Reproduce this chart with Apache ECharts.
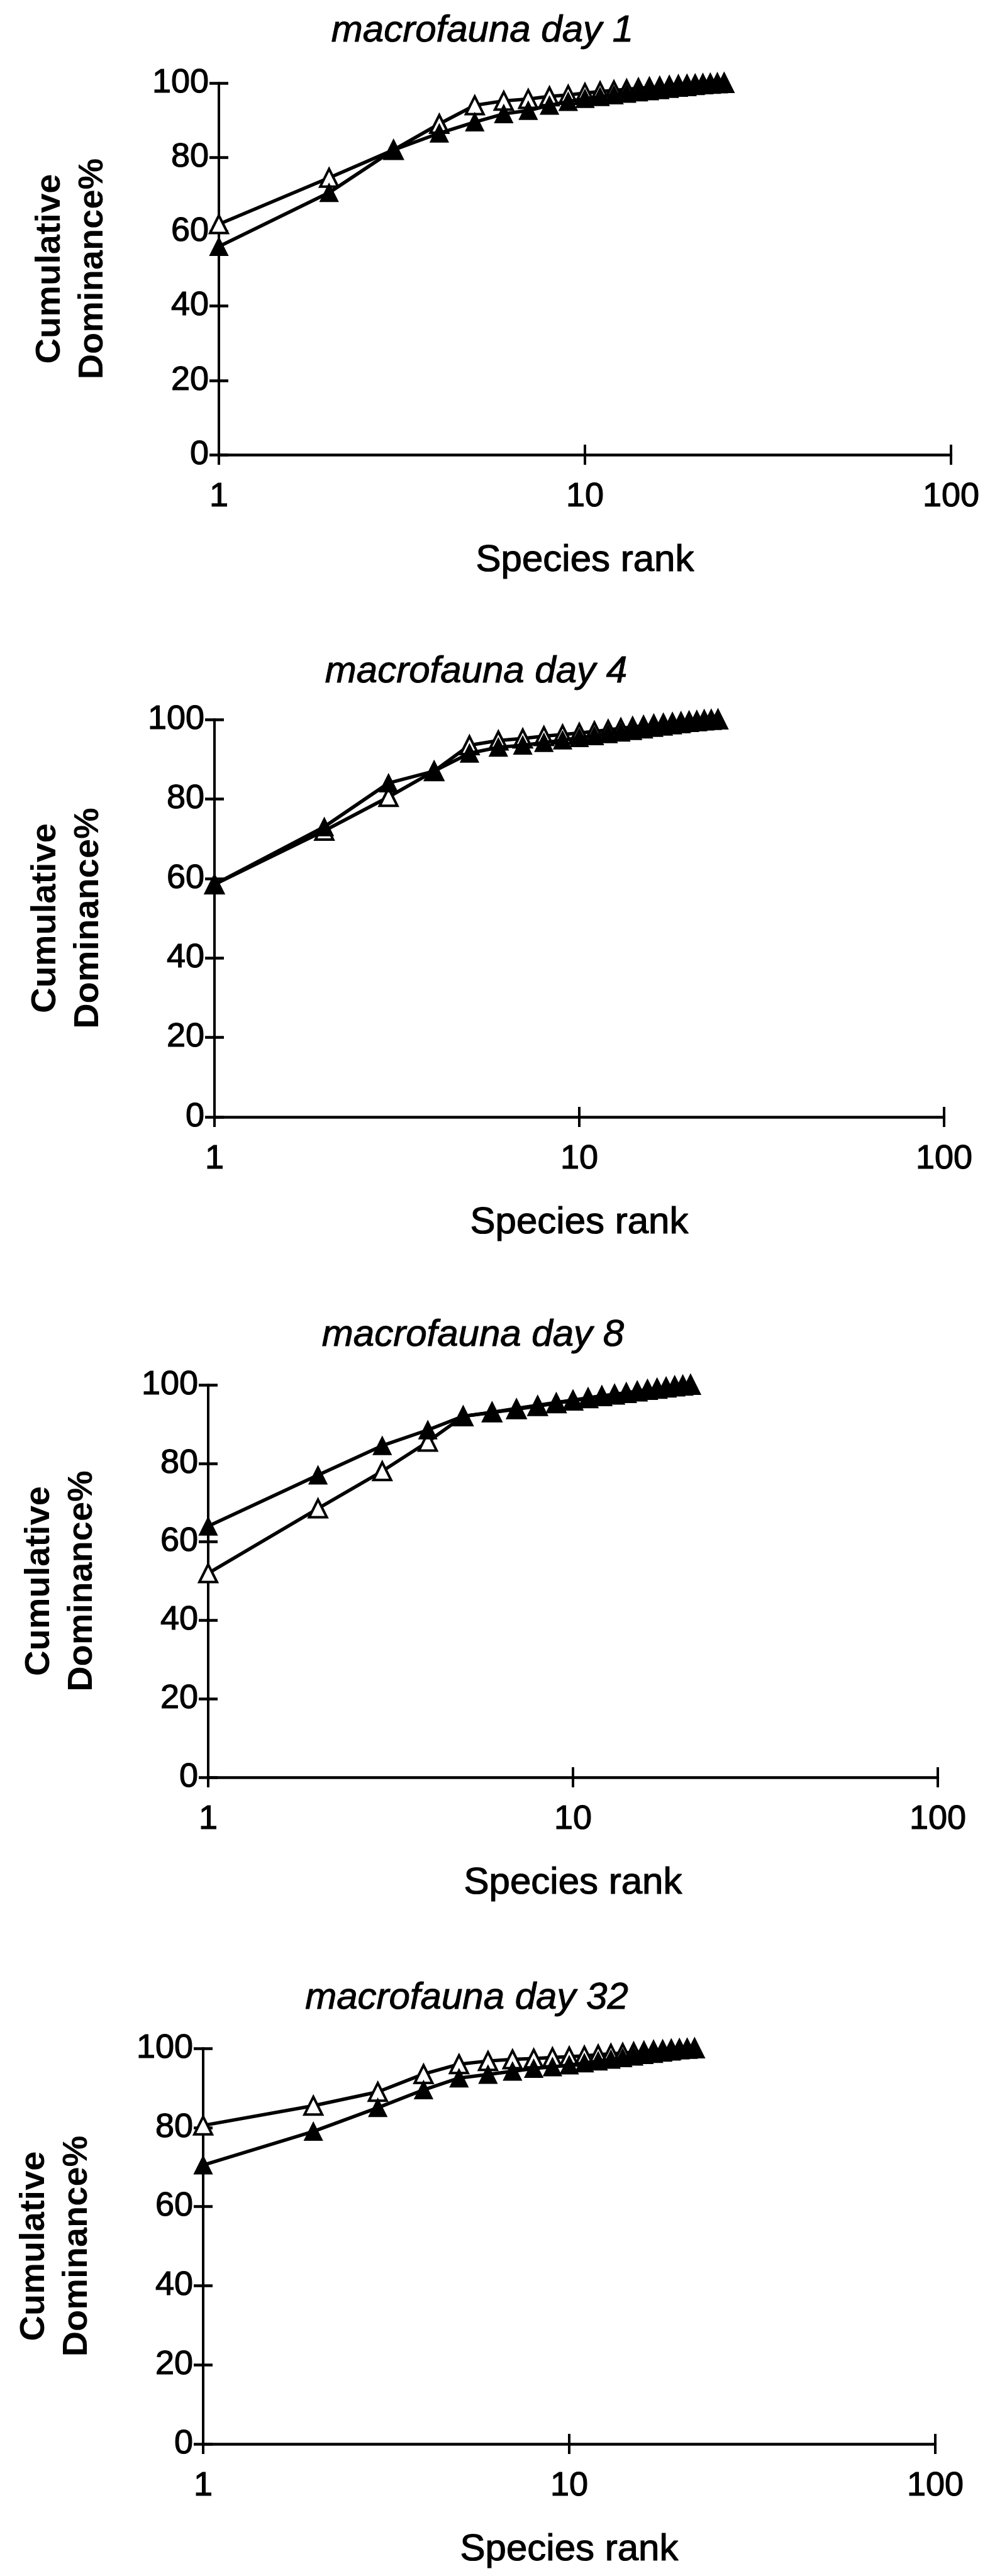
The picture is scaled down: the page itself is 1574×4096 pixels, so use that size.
<!DOCTYPE html>
<html>
<head>
<meta charset="utf-8">
<script src="https://cdn.jsdelivr.net/npm/echarts@6/dist/echarts.min.js"></script>
<style>
  html, body { margin: 0; padding: 0; background: #fff; }
  #chart { width: 1574px; height: 4096px; }
</style>
</head>
<body>
<div id="chart"></div>
<script>
// ---------- DATA ----------
const panelTitles = ['macrofauna day 1', 'macrofauna day 4', 'macrofauna day 8', 'macrofauna day 32'];
const xAxisTitle = 'Species rank';
const yAxisTitle = 'Cumulative\nDominance%';
const xTickValues = [1, 10, 100];
const yTickValues = [0, 20, 40, 60, 80, 100];

const ranksDay1 = [1, 2, 3, 4, 5, 6, 7, 8, 9, 10, 11, 12, 13, 14, 15, 16, 17, 18, 19, 20, 21, 22, 23, 24];
const openDay1 = [62, 74.5, 82, 89, 94, 95.2, 95.7, 96.4, 96.8, 97.3, 97.7, 98.0, 98.3, 98.6, 98.8, 99.0, 99.2, 99.4, 99.5, 99.6, 99.7, 99.8, 99.9, 100];
const filledDay1 = [56, 70.5, 82, 86.5, 89.5, 91.7, 92.6, 94.0, 95.0, 95.8, 96.3, 96.8, 97.2, 97.6, 97.9, 98.2, 98.5, 98.8, 99.0, 99.3, 99.5, 99.7, 99.85, 100];

const ranksDay4 = [1, 2, 3, 4, 5, 6, 7, 8, 9, 10, 11, 12, 13, 14, 15, 16, 17, 18, 19, 20, 21, 22, 23, 24];
const openDay4 = [58.5, 72, 80.5, 87, 93.5, 94.7, 95.2, 95.8, 96.2, 96.6, 97.0, 97.4, 97.8, 98.1, 98.4, 98.7, 98.9, 99.1, 99.3, 99.5, 99.6, 99.8, 99.9, 100];
const filledDay4 = [58.5, 73, 84, 87, 91.5, 93, 93.5, 94.2, 94.8, 95.4, 95.9, 96.4, 96.8, 97.2, 97.6, 98.0, 98.3, 98.6, 98.9, 99.2, 99.4, 99.6, 99.8, 100];

const ranksDay8 = [1, 2, 3, 4, 5, 6, 7, 8, 9, 10, 11, 12, 13, 14, 15, 16, 17, 18, 19, 20, 21];
const openDay8 = [52, 68.5, 78, 85.5, 92, 93, 93.8, 94.6, 95.3, 96.0, 96.6, 97.1, 97.5, 97.9, 98.3, 98.7, 99.0, 99.3, 99.6, 99.8, 100];
const filledDay8 = [64, 77, 84.5, 88.5, 92, 93, 94, 94.8, 95.5, 96.1, 96.7, 97.2, 97.6, 98.0, 98.4, 98.8, 99.1, 99.4, 99.6, 99.8, 100];

const ranksDay32 = [1, 2, 3, 4, 5, 6, 7, 8, 9, 10, 11, 12, 13, 14, 15, 16, 17, 18, 19, 20, 21, 22];
const openDay32 = [80.5, 85.5, 89, 93.5, 96, 96.8, 97.2, 97.4, 97.7, 97.9, 98.1, 98.4, 98.6, 98.8, 99.0, 99.2, 99.4, 99.5, 99.7, 99.8, 99.9, 100];
const filledDay32 = [70.5, 79, 85, 89.5, 92.5, 93.4, 94.2, 94.9, 95.3, 95.8, 96.3, 96.8, 97.2, 97.6, 98.0, 98.4, 98.7, 99.0, 99.3, 99.6, 99.8, 100];

const panelRanks = [ranksDay1, ranksDay4, ranksDay8, ranksDay32];
const panelOpen = [openDay1, openDay4, openDay8, openDay32];
const panelFilled = [filledDay1, filledDay4, filledDay8, filledDay32];

// ---------- LAYOUT ----------
const layout = [
  { left: 348, top: 132, width: 1164, height: 591, titleX: 767, titleY: 49 },
  { left: 341, top: 1144, width: 1160, height: 632, titleX: 757, titleY: 1068 },
  { left: 331, top: 2202, width: 1160, height: 624, titleX: 752, titleY: 2123 },
  { left: 323, top: 3257, width: 1164, height: 629, titleX: 742, titleY: 3177 }
];
const FONT = "'Liberation Sans', Arial, Helvetica, sans-serif";
const BLACK = '#000';
const INK = { textBorderColor: BLACK, textBorderWidth: 1.2 };

const grids = [], xAxes = [], yAxes = [], series = [], graphics = [];

layout.forEach((L, i) => {
  grids.push({ left: L.left, top: L.top, width: L.width, height: L.height, containLabel: false });

  xAxes.push({
    gridIndex: i, type: 'log', logBase: 10, min: xTickValues[0], max: xTickValues[xTickValues.length - 1],
    position: 'bottom',
    axisLine: { show: true, lineStyle: { color: BLACK, width: 4.5 } },
    axisTick: { show: true, inside: false, length: 16, lineStyle: { color: BLACK, width: 4 } },
    axisLabel: Object.assign({ show: true, color: BLACK, fontSize: 54, fontFamily: FONT, margin: 40,
      formatter: v => String(Math.round(v)) }, INK),
    splitLine: { show: false }, minorTick: { show: false },
    name: xAxisTitle, nameLocation: 'middle', nameGap: 138,
    nameTextStyle: Object.assign({ color: BLACK, fontSize: 60, fontFamily: FONT, lineHeight: 60 }, INK)
  });
  xAxes.push({
    gridIndex: i, type: 'log', logBase: 10, min: xTickValues[0], max: xTickValues[xTickValues.length - 1],
    position: 'bottom', offset: 0,
    axisLine: { show: false },
    axisTick: { show: true, inside: true, length: 16, lineStyle: { color: BLACK, width: 4 } },
    axisLabel: { show: false }, splitLine: { show: false }
  });

  yAxes.push({
    gridIndex: i, type: 'value', min: yTickValues[0], max: yTickValues[yTickValues.length - 1], interval: 20,
    position: 'left',
    axisLine: { show: true, lineStyle: { color: BLACK, width: 4 } },
    axisTick: { show: true, inside: false, length: 15, lineStyle: { color: BLACK, width: 4.5 } },
    axisLabel: Object.assign({ show: true, color: BLACK, fontSize: 54, fontFamily: FONT, margin: 16,
      padding: [22, 0, 0, 0] }, INK),
    splitLine: { show: false },
    name: yAxisTitle, nameLocation: 'middle', nameRotate: 90, nameGap: 166,
    nameTextStyle: { color: BLACK, fontSize: 56, fontWeight: 'bold', fontFamily: FONT, lineHeight: 68 }
  });
  yAxes.push({
    gridIndex: i, type: 'value', min: yTickValues[0], max: yTickValues[yTickValues.length - 1], interval: 20,
    position: 'left', offset: 0,
    axisLine: { show: false },
    axisTick: { show: true, inside: true, length: 15, lineStyle: { color: BLACK, width: 4.5 } },
    axisLabel: { show: false }, splitLine: { show: false }
  });

  const ranks = panelRanks[i];
  series.push({
    type: 'line', xAxisIndex: 2 * i, yAxisIndex: 2 * i,
    data: ranks.map((r, k) => [r, panelOpen[i][k]]),
    symbol: 'triangle', symbolSize: 28, showSymbol: true, clip: false,
    lineStyle: { color: BLACK, width: 5.5 },
    itemStyle: { color: '#fff', borderColor: BLACK, borderWidth: 4 },
    z: 2, animation: false
  });
  series.push({
    type: 'line', xAxisIndex: 2 * i, yAxisIndex: 2 * i,
    data: ranks.map((r, k) => [r, panelFilled[i][k]]),
    symbol: 'triangle', symbolSize: 28, showSymbol: true, clip: false,
    lineStyle: { color: BLACK, width: 5.5 },
    itemStyle: { color: BLACK, borderColor: BLACK, borderWidth: 2 },
    z: 3, animation: false
  });

  graphics.push({
    type: 'text', x: L.titleX, y: L.titleY,
    style: { text: panelTitles[i], fill: BLACK, fontSize: 60, fontStyle: 'italic', fontFamily: FONT,
      align: 'center', verticalAlign: 'middle', stroke: BLACK, lineWidth: 1 }
  });
});

const chart = echarts.init(document.getElementById('chart'), null, { renderer: 'canvas' });
chart.setOption({
  backgroundColor: '#fff',
  animation: false,
  grid: grids,
  xAxis: xAxes,
  yAxis: yAxes,
  series: series,
  graphic: graphics
});
</script>
</body>
</html>
